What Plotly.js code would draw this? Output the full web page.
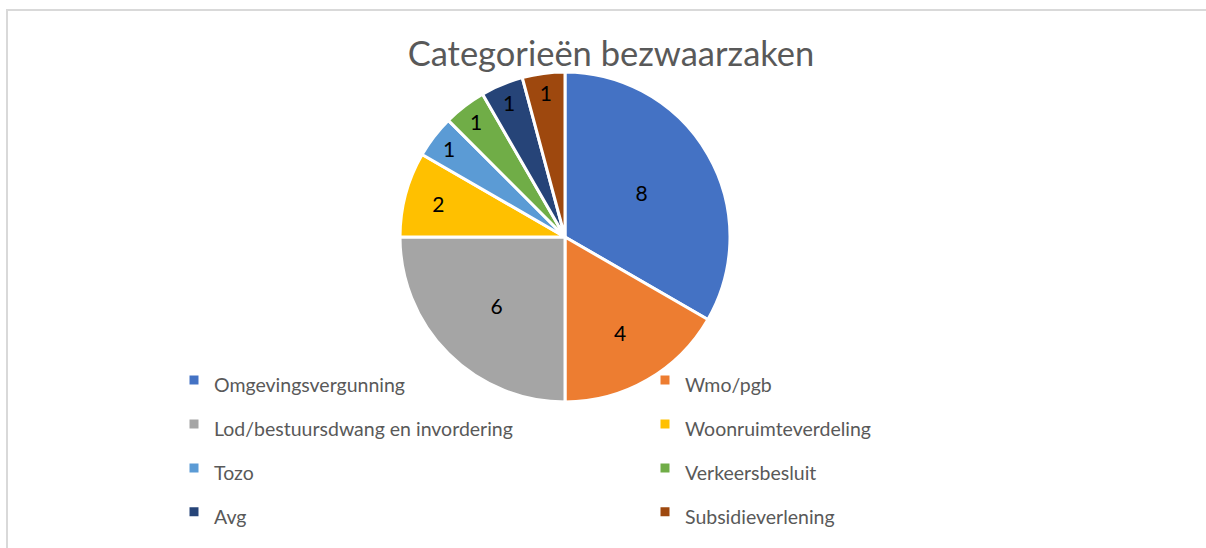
<!DOCTYPE html>
<html>
<head>
<meta charset="utf-8">
<script src="https://cdn.plot.ly/plotly-3.0.1.min.js"></script>
<style>
  body { margin: 0; background: #fff; }
  #plot { width: 1206px; height: 548px; }
</style>
</head>
<body>
<div id="plot"></div>
<script>
// Категории и количество дел
const categories = ['Omgevingsvergunning', 'Wmo/pgb', 'Lod/bestuursdwang en invordering',
  'Woonruimteverdeling', 'Tozo', 'Verkeersbesluit', 'Avg', 'Subsidieverlening'];
const aantallen = [8, 4, 6, 2, 1, 1, 1, 1];
const kleuren = ['#4472C4', '#ED7D31', '#A5A5A5', '#FFC000', '#5B9BD5', '#70AD47', '#264478', '#9E480E'];

const W = 1206;
const H = 548;
const fontFam = 'Lato, "Open Sans", "Liberation Sans", sans-serif';

// legend font is big only to get the row spacing, text itself is smaller
const legendLabels = categories.map(c => '<span style="font-size:19.5px">' + c + '</span>');

const plot_data = [
  {
    type: 'pie',
    labels: legendLabels,
    values: aantallen,
    text: aantallen.map(String),
    textinfo: 'text',
    textposition: 'inside',
    insidetextorientation: 'horizontal',
    textfont: { family: fontFam, size: 21, color: '#000000' },
    sort: false,
    direction: 'clockwise',
    rotation: 0,
    marker: { colors: kleuren, line: { color: '#ffffff', width: 3 } },
    domain: { x: [400 / W, 730 / W], y: [1 - 402 / H, 1 - 72 / H] },
    hoverinfo: 'skip'
  }
];

const plot_layout = {
  width: W,
  height: H,
  margin: { l: 0, r: 0, t: 0, b: 0, autoexpand: false },
  paper_bgcolor: '#ffffff',
  font: { family: fontFam, color: '#595959' },
  title: {
    text: 'Categorieën bezwaarzaken',
    font: { family: fontFam, size: 34.5, color: '#595959' },
    x: 611 / W, xanchor: 'center',
    y: 1 - 54 / H, yanchor: 'middle'
  },
  uniformtext: { mode: 'show', minsize: 21 },
  showlegend: true,
  legend: {
    orientation: 'h',
    x: 174 / W, xanchor: 'left',
    y: 1 - 353 / H, yanchor: 'top',
    entrywidth: 426,
    entrywidthmode: 'pixels',
    font: { family: fontFam, size: 31.5, color: '#595959' },
    bgcolor: 'rgba(0,0,0,0)'
  },
  shapes: [
    {
      type: 'rect', xref: 'paper', yref: 'paper',
      x0: 7 / W, x1: 1.01, y0: -0.02, y1: 1 - 10 / H,
      line: { color: '#D9D9D9', width: 2 }
    }
  ]
};

Plotly.newPlot('plot', plot_data, plot_layout, { displayModeBar: false, staticPlot: true });
</script>
</body>
</html>
